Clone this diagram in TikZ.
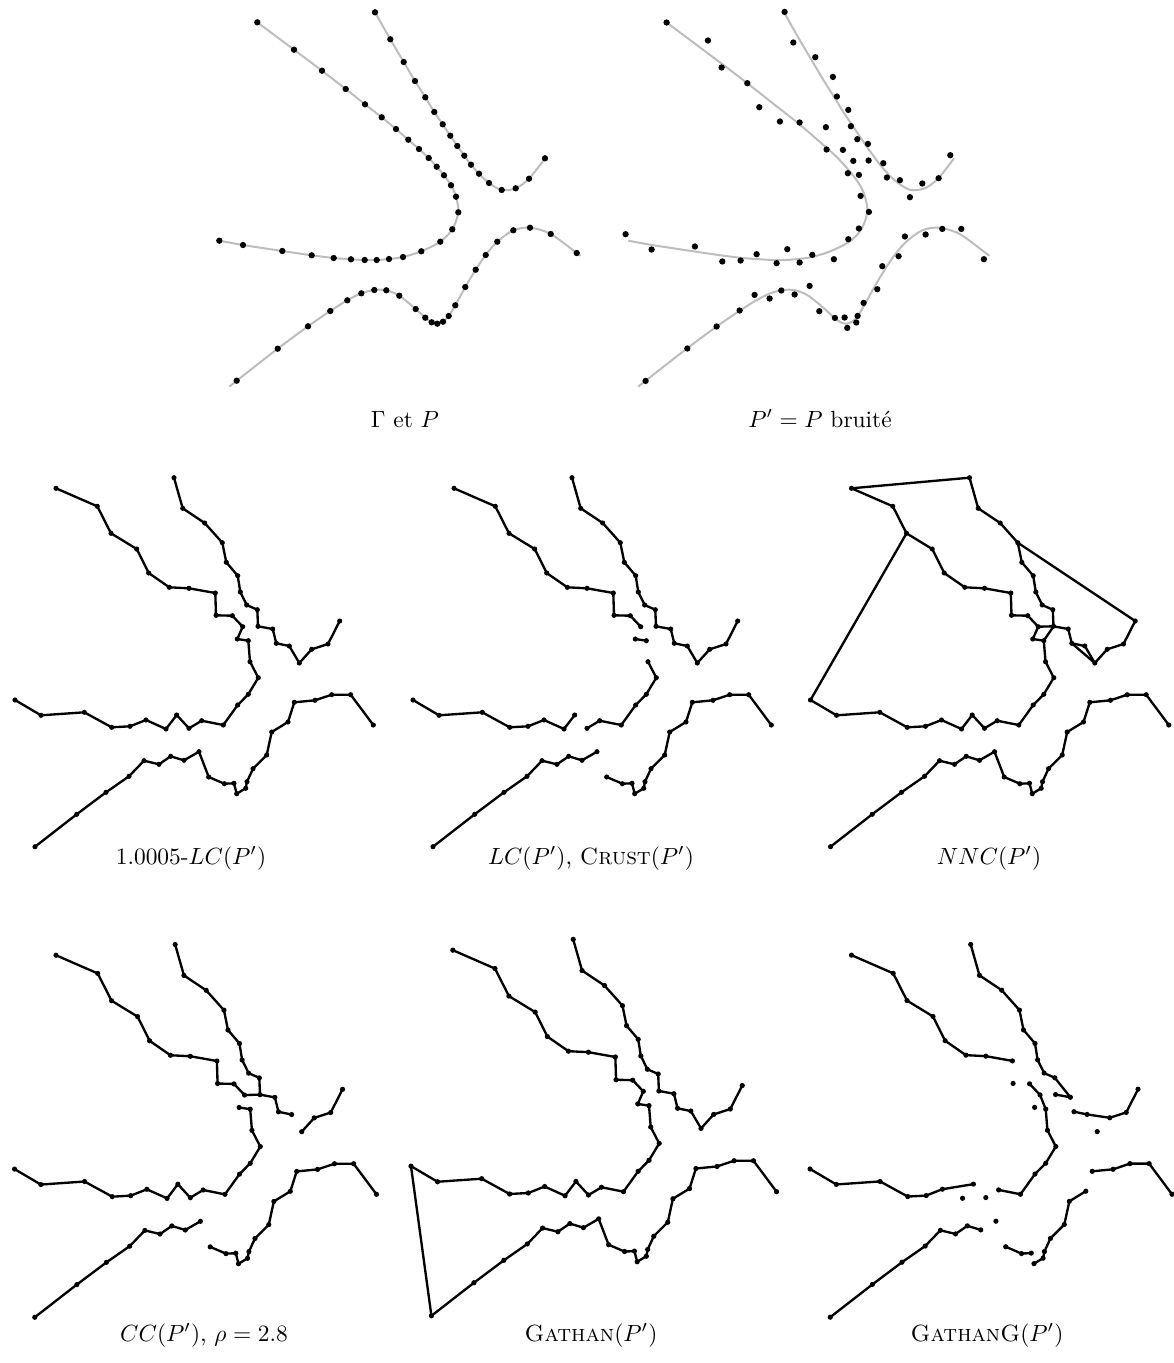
\documentclass[tikz,border=0pt]{standalone}
\usepackage{tikz}

%% sample points of Gamma (top-left panel), pixel units, y pointing down
\newcommand\gammapts{%
  \foreach \n/\x/\y in {pa1/52.3/22.3, pa2/89.0/49.7, pa3/117.0/70.7, pa4/140.7/89.0,
      pa5/160.0/104.3, pa6/176.7/117.3, pa7/191.0/129.0, pa8/203.3/139.7, pa9/214.0/149.0,
      pa10/223.7/158.0, pa11/231.7/166.7, pa12/239.0/175.3, pa13/246.0/185.3,
      pa14/251.0/196.7, pa15/253.3/212.3, pa16/247.3/229.3, pa17/235.3/241.7,
      pa18/216.3/251.3, pa19/198.0/257.0, pa20/184.0/259.0, pa21/171.7/260.0,
      pa22/159.7/260.0, pa23/146.0/259.3, pa24/128.7/258.0, pa25/106.7/255.3,
      pa26/77.3/251.0, pa27/38.0/245.0, pa28/14.3/240.7,
      pb1/170.0/12.3, pb2/185.3/39.3, pb3/198.7/62.0, pb4/210.0/81.0, pb5/220.3/97.3,
      pb6/229.3/112.0, pb7/237.7/124.3, pb8/245.3/135.7, pb9/252.3/146.0, pb10/259.3/155.7,
      pb11/266.0/164.7, pb12/274.0/173.7, pb13/284.0/183.0, pb14/296.7/190.0,
      pb15/310.7/188.3, pb16/324.0/178.7, pb17/340.0/158.3,
      pc0/24.3/386.7, pc1/31.7/380.7, pc2/72.7/348.7, pc3/103.0/326.3, pc4/125.3/311.0,
      pc5/142.3/300.3, pc6/156.3/293.3, pc7/169.3/290.0, pc8/181.3/290.3, pc9/194.3/295.7,
      pc10/210.7/309.0, pc11/220.3/317.7, pc12/226.7/322.3, pc13/232.3/323.7,
      pc14/238.0/321.7, pc15/243.7/316.0, pc16/250.3/305.3, pc17/260.3/287.0,
      pc18/270.7/269.7, pc19/280.7/255.0, pc20/292.3/241.7, pc21/308.3/230.3,
      pc22/325.0/227.7, pc23/345.7/234.0, pc24/371.7/253.0, pc25/375.5/255.8}
    {\coordinate (\n) at (\x,\y);}}

\newcommand\gammacurves{%
  \draw[gammaline] plot[smooth] coordinates {(pa1) (pa2) (pa3) (pa4) (pa5) (pa6) (pa7)
    (pa8) (pa9) (pa10) (pa11) (pa12) (pa13) (pa14) (pa15) (pa16) (pa17) (pa18) (pa19)
    (pa20) (pa21) (pa22) (pa23) (pa24) (pa25) (pa26) (pa27) (pa28)};
  \draw[gammaline] plot[smooth] coordinates {(pb1) (pb2) (pb3) (pb4) (pb5) (pb6) (pb7)
    (pb8) (pb9) (pb10) (pb11) (pb12) (pb13) (pb14) (pb15) (pb16) (pb17)};
  \draw[gammaline] plot[smooth] coordinates {(pc0) (pc1) (pc2) (pc3) (pc4) (pc5) (pc6)
    (pc7) (pc8) (pc9) (pc10) (pc11) (pc12) (pc13) (pc14) (pc15) (pc16) (pc17) (pc18)
    (pc19) (pc20) (pc21) (pc22) (pc23) (pc24) (pc25)};}

%% the noisy set P', in the frame of the 1.0005-LC panel
\newcommand\noisypts{%
  \foreach \n/\x/\y in {a1/56.0/23.3, a2/97.3/41.3, a3/111.0/68.3, a4/136.7/84.0,
      a5/148.7/108.0, a6/169.3/122.3, a7/189.0/123.3, a8/215.3/128.0, a9/216.0/150.3,
      a10/232.3/150.7, a11/242.7/161.7, a12/237.3/174.0, a13/248.3/175.7, a14/250.0/196.7,
      a15/258.3/212.7, a16/248.3/229.3, a17/237.7/240.0, a18/223.3/260.0, a19/201.7/255.7,
      a20/189.0/263.3, a21/176.7/250.0, a22/166.0/264.0, a23/146.0/255.0, a24/130.0/261.3,
      a25/111.7/262.3, a26/84.3/247.3, a27/41.0/250.3, a28/15.0/235.0,
      b1/174.0/12.7, b2/182.7/43.3, b3/204.7/58.0, b4/222.3/77.7, b5/226.3/97.3,
      b6/237.7/110.7, b7/240.3/127.0, b8/246.7/140.0, b9/257.3/144.7, b10/258.0/161.3,
      b11/272.7/164.0, b12/276.3/178.3, b13/289.3/181.0, b14/299.3/198.0, b15/311.7/184.3,
      b16/328.0/179.0, b17/339.7/156.0,
      c1/35.0/381.7, c2/76.7/349.3, c3/106.0/327.3, c4/129.0/311.3, c5/144.0/295.7,
      c6/159.0/299.3, c7/170.7/291.3, c8/184.0/295.3, c9/199.0/286.7, c10/208.7/312.0,
      c11/224.3/318.7, c12/234.0/318.3, c13/236.7/328.7, c14/245.7/323.3, c15/247.0/316.7,
      c16/253.0/303.7, c17/266.7/290.0, c18/271.7/267.0, c19/288.0/257.0, c20/294.3/237.3,
      c21/315.0/235.3, c22/331.7/229.7, c23/350.7/229.7, c24/373.3/260.0}
    {\coordinate (\n) at (\x,\y);}}

%% #1 = name prefix, #2 = dot radius
\newcommand\drawpts[2]{%
  \foreach \k in {1,...,28}{\fill (#1a\k) circle[radius=#2];}
  \foreach \k in {1,...,17}{\fill (#1b\k) circle[radius=#2];}
  \foreach \k in {1,...,24}{\fill (#1c\k) circle[radius=#2];}}

%% polyline through named points: \chain{prefix}{first}{rest}
\newcommand\chain[3]{\draw[edge] (#1#2) \foreach \k in {#3}{-- (#1\k)};}

\begin{document}
\begin{tikzpicture}[x=0.15mm,y=-0.15mm,
    edge/.style={line width=1pt,line join=round,line cap=round},
    gammaline/.style={line width=0.85pt,gammagrey}]
  \definecolor{gammagrey}{gray}{0.74}
  \useasboundingbox (0,0) rectangle (1174,1363);

  %% top row
  \begin{scope}[shift={(205,0)}]
    \gammapts
    \gammacurves
    \drawpts{p}{1.35pt}
  \end{scope}
  \begin{scope}[shift={(614,0)}]
    \gammapts
    \gammacurves
  \end{scope}
  \begin{scope}[shift={(610.6,-0.8)}]
    \noisypts
    \drawpts{}{1.35pt}
  \end{scope}
  \node (lgamma) at (405,427) [anchor=base] {$\Gamma$ et $P$};
  \node (lnoisy) at (820,427) [anchor=base] {$P' = P$ bruit\'e};

  %% middle row
  \begin{scope}[shift={(0,465)}]
    \noisypts
    \chain{a}{1}{2,...,28}
    \chain{b}{1}{2,...,17}
    \chain{c}{1}{2,...,24}
    \drawpts{}{1.1pt}
  \end{scope}
  \begin{scope}[shift={(398,465)}]
    \noisypts
    \chain{a}{1}{2,...,11}
    \chain{a}{12}{13}
    \chain{a}{14}{15,...,20}
    \chain{a}{21}{22,...,28}
    \chain{b}{1}{2,...,17}
    \chain{c}{1}{2,...,9}
    \chain{c}{10}{11,...,24}
    \drawpts{}{1.1pt}
  \end{scope}
  \begin{scope}[shift={(795.5,465)}]
    \noisypts
    \chain{a}{1}{2,...,28}
    \chain{b}{1}{2,...,17}
    \chain{c}{1}{2,...,24}
    \draw[edge] (a1) -- (b1);
    \draw[edge] (a3) -- (a28);
    \draw[edge] (b4) -- (b17);
    \draw[edge] (a11) -- (b10) -- (a13);
    \draw[edge] (b12) -- (b14);
    \drawpts{}{1.1pt}
  \end{scope}
  \node (llc) at (191,864) [anchor=base] {1.0005-$LC(P')$};
  \node (lcrust) at (591,864) [anchor=base] {$LC(P')$, \textsc{Crust}$(P')$};
  \node (lnnc) at (989,864) [anchor=base] {$NNC(P')$};

  %% bottom row
  \begin{scope}[shift={(-0.6,931.7)},scale=1.01]
    \noisypts
    \chain{a}{1}{2,...,11}
    \draw[edge] (a11) -- (b10);
    \chain{a}{12}{13,...,28}
    \chain{b}{1}{2,...,13}
    \chain{b}{14}{15,16,17}
    \chain{c}{1}{2,...,9}
    \chain{c}{10}{11,...,24}
    \drawpts{}{1.1pt}
  \end{scope}
  \begin{scope}[shift={(395.7,926.4)},scale=1.02]
    \noisypts
    \chain{a}{1}{2,...,28}
    \draw[edge] (a28) -- (c1);
    \chain{b}{1}{2,...,17}
    \chain{c}{1}{2,...,24}
    \drawpts{}{1.1pt}
  \end{scope}
  \begin{scope}[shift={(794.9,931.6)},scale=1.01]
    \noisypts
    \chain{a}{1}{2,...,8}
    \chain{a}{10}{11,13,14,15,16,17,18,19}
    \chain{a}{21}{23,24,25,26,27,28}
    \chain{b}{1}{2,...,9}
    \draw[edge] (b9) -- (b11) -- (b10);
    \chain{b}{12}{13,15,16,17}
    \chain{c}{1}{2,...,8}
    \chain{c}{10}{11,12}
    \chain{c}{13}{14,...,19}
    \chain{c}{20}{21,...,24}
    \drawpts{}{1.1pt}
  \end{scope}
  \node (lcc) at (204,1341) [anchor=base] {$CC(P')$, $\rho = 2.8$};
  \node (lgathan) at (591,1341) [anchor=base] {\textsc{Gathan}$(P')$};
  \node (lgathang) at (987,1341) [anchor=base] {\textsc{GathanG}$(P')$};
\end{tikzpicture}
\end{document}
